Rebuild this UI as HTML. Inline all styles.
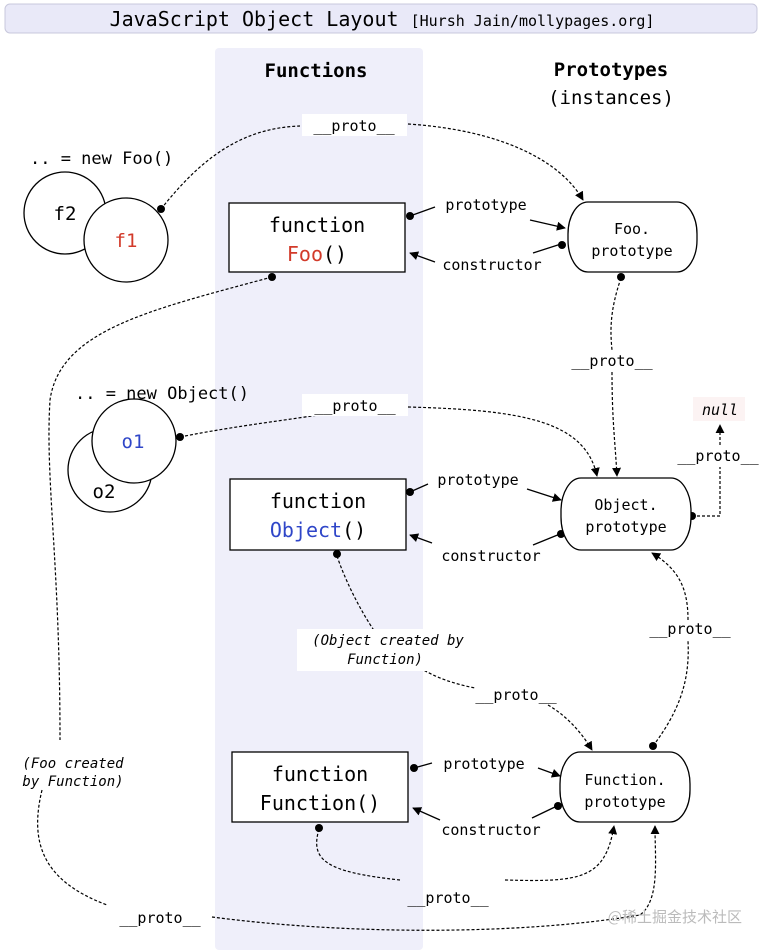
<!DOCTYPE html>
<html><head><meta charset="utf-8"><style>
html,body{margin:0;padding:0;background:#fff;}
svg{display:block;font-family:"DejaVu Sans Mono","Liberation Mono",monospace;}
</style></head><body>
<svg width="765" height="950" viewBox="0 0 765 950" xmlns="http://www.w3.org/2000/svg">
<defs>
<marker id="a" viewBox="0 0 10 10" refX="9" refY="5" markerWidth="9" markerHeight="9" orient="auto-start-reverse" markerUnits="userSpaceOnUse"><path d="M0,0 L10,5 L0,10 z" fill="#000"/></marker>
</defs>
<rect x="5" y="4" width="752" height="29" rx="5" fill="#e9e9f8" stroke="#c8c8dc"/>
<text x="382" y="26" text-anchor="middle" font-size="20">JavaScript Object Layout <tspan font-size="15">[Hursh Jain/mollypages.org]</tspan></text>
<rect x="215" y="48" width="208" height="902" rx="4" fill="#efeffa"/>
<text x="316" y="77" text-anchor="middle" font-size="19" font-weight="bold">Functions</text>
<text x="611" y="76" text-anchor="middle" font-size="19" font-weight="bold">Prototypes</text>
<text x="611" y="104" text-anchor="middle" font-size="19">(instances)</text>

<g fill="none" stroke="#000" stroke-width="1.2" stroke-dasharray="3,2">
<path d="M161,209 C200,160 240,128 300,126"/>
<path d="M408,124 C500,130 560,160 583,200" marker-end="url(#a)"/>
<path d="M621,278 C610,310 610,330 612,350"/>
<path d="M612,372 C612,420 615,440 617,476" marker-end="url(#a)"/>
<path d="M180,437 C240,425 290,420 330,413"/>
<path d="M408,407 C520,410 585,420 597,476" marker-end="url(#a)"/>
<path d="M692,516 L720,516 L720,467"/>
<path d="M720,445 L720,425" marker-end="url(#a)"/>
<path d="M337,556 C345,580 360,610 375,632"/>
<path d="M420,668 C440,680 460,685 475,688"/>
<path d="M548,705 C565,715 580,730 592,750" marker-end="url(#a)"/>
<path d="M653,746 C680,710 690,680 688,641"/>
<path d="M688,620 C688,590 680,570 652,553" marker-end="url(#a)"/>
<path d="M319,829 C310,860 325,872 400,880"/>
<path d="M505,880 C580,882 605,880 614,826" marker-end="url(#a)"/>
<path d="M272,277 C150,310 60,330 50,400 C45,480 60,560 60,740"/>
<path d="M42,790 C30,840 40,880 107,905"/>
<path d="M212,917 C350,935 520,935 640,915 C660,900 655,860 655,826" marker-end="url(#a)"/>
</g>

<g fill="none" stroke="#000" stroke-width="1.3">
<path d="M410,216 L435,207"/>
<path d="M530,220 L565,228" marker-end="url(#a)"/>
<path d="M561,244 L533,253"/>
<path d="M435,262 L410,253" marker-end="url(#a)"/>
<path d="M410,492 L428,484"/>
<path d="M527,489 L561,500" marker-end="url(#a)"/>
<path d="M560,534 L533,545"/>
<path d="M432,543 L410,535" marker-end="url(#a)"/>
<path d="M414,768 L432,763"/>
<path d="M538,768 L560,776" marker-end="url(#a)"/>
<path d="M557,806 L532,818"/>
<path d="M440,820 L413,808" marker-end="url(#a)"/>
</g>
<g fill="#000">
<circle cx="161" cy="209" r="4"/><circle cx="410" cy="216" r="4"/><circle cx="562" cy="245" r="4"/>
<circle cx="272" cy="277" r="4"/><circle cx="621" cy="277" r="4"/>
<circle cx="180" cy="437" r="4"/><circle cx="410" cy="492" r="4"/><circle cx="561" cy="534" r="4"/>
<circle cx="692" cy="516" r="4"/><circle cx="337" cy="554" r="4"/>
<circle cx="414" cy="768" r="4"/><circle cx="558" cy="806" r="4"/><circle cx="653" cy="746" r="4"/><circle cx="319" cy="828" r="4"/>
</g>

<g font-size="15" text-anchor="middle">
<rect x="302" y="114" width="105" height="22" fill="#fff"/><text x="354" y="131">__proto__</text>
<text x="486" y="210">prototype</text>
<text x="492" y="270">constructor</text>
<text x="612" y="366">__proto__</text>
<rect x="302" y="394" width="106" height="22" fill="#fff"/><text x="355" y="411">__proto__</text>
<rect x="693" y="397" width="52" height="24" fill="#fcf3f3"/><text x="720" y="415" font-style="italic">null</text>
<text x="718" y="461">__proto__</text>
<text x="478" y="485">prototype</text>
<text x="491" y="561">constructor</text>
<text x="690" y="634">__proto__</text>
<rect x="297" y="629" width="130" height="42" fill="#fff"/>
<text x="388" y="645" font-size="14" font-style="italic">(Object created by</text>
<text x="385" y="664" font-size="14" font-style="italic">Function)</text>
<text x="516" y="700">__proto__</text>
<text x="484" y="769">prototype</text>
<text x="491" y="835">constructor</text>
<text x="448" y="903">__proto__</text>
<text x="160" y="923">__proto__</text>
<text x="73" y="768" font-size="14" font-style="italic">(Foo created</text>
<text x="73" y="786" font-size="14" font-style="italic">by Function)</text>
</g>

<text x="30" y="164" font-size="17">.. = new Foo()</text>
<circle cx="65" cy="213" r="41" fill="#fff" stroke="#000" stroke-width="1.3"/>
<text x="65" y="220" font-size="19" text-anchor="middle">f2</text>
<circle cx="126" cy="240" r="42" fill="#fff" stroke="#000" stroke-width="1.3"/>
<text x="126" y="247" font-size="19" text-anchor="middle" fill="#d23a2a">f1</text>

<text x="75" y="399" font-size="17">.. = new Object()</text>
<circle cx="110" cy="470" r="42" fill="#fff" stroke="#000" stroke-width="1.3"/>
<text x="104" y="498" font-size="19" text-anchor="middle">o2</text>
<circle cx="134" cy="441" r="42" fill="#fff" stroke="#000" stroke-width="1.3"/>
<text x="133" y="448" font-size="19" text-anchor="middle" fill="#2f46c8">o1</text>

<g fill="#fff" stroke="#000" stroke-width="1.3">
<rect x="229" y="203" width="176" height="69"/>
<rect x="568" y="202" width="129" height="70" rx="20" ry="32"/>
<rect x="230" y="479" width="176" height="71"/>
<rect x="561" y="478" width="130" height="72" rx="20" ry="33"/>
<rect x="232" y="752" width="176" height="70"/>
<rect x="560" y="752" width="130" height="70" rx="20" ry="32"/>
</g>
<g font-size="20" text-anchor="middle">
<text x="317" y="232">function</text>
<text x="317" y="261"><tspan fill="#d23a2a">Foo</tspan>()</text>
<text x="318" y="508">function</text>
<text x="318" y="537"><tspan fill="#2f46c8">Object</tspan>()</text>
<text x="320" y="781">function</text>
<text x="320" y="810">Function()</text>
</g>
<g font-size="15" text-anchor="middle">
<text x="632" y="234">Foo.</text>
<text x="632" y="256">prototype</text>
<text x="626" y="510">Object.</text>
<text x="626" y="532">prototype</text>
<text x="625" y="785">Function.</text>
<text x="625" y="807">prototype</text>
</g>
<text x="742" y="922" font-size="15" text-anchor="end" fill="#bbb" font-family="'Noto Sans CJK SC',sans-serif">@稀土掘金技术社区</text>
</svg>
</body></html>
